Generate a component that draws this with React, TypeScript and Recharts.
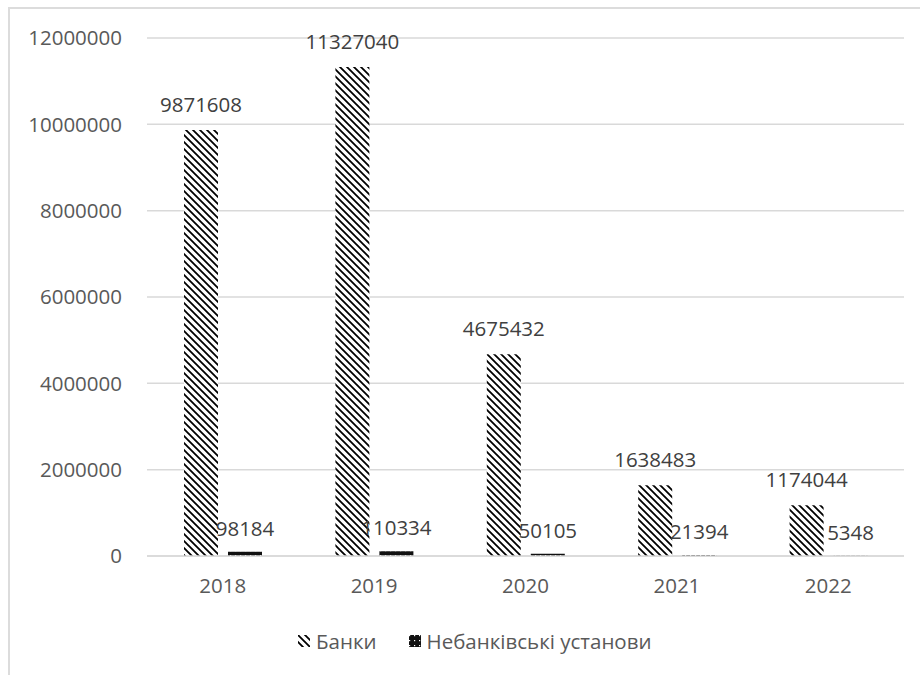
import { BarChart, Bar, XAxis, YAxis, CartesianGrid, Legend, LabelList } from 'recharts'

const years = ['2018', '2019', '2020', '2021', '2022']
const banks = [9871608, 11327040, 4675432, 1638483, 1174044]
const nonBanks = [98184, 110334, 50105, 21394, 5348]
const yTicks = [0, 2000000, 4000000, 6000000, 8000000, 10000000, 12000000]

const BANKS_NAME = 'Банки'
const NON_BANKS_NAME = 'Небанківські установи'

const FONT = '"Open Sans", "Liberation Sans", sans-serif'
const FONT_SIZE = 20.5

const data = years.map((year, i) => ({
  year,
  banks: banks[i],
  nonBanks: nonBanks[i],
}))

function Patterns({ prefix }: { prefix: string }) {
  return (
    <defs>
      <pattern id={`${prefix}-diag`} width={7} height={7} patternUnits="userSpaceOnUse">
        <rect width={7} height={7} fill="#fff" />
        <path d="M-2,-2 L9,9 M-2,5 L2,9 M5,-2 L9,2" stroke="#000" strokeWidth={1.8} />
      </pattern>
      <pattern id={`${prefix}-dots`} width={5} height={5} patternUnits="userSpaceOnUse">
        <rect width={5} height={5} fill="#111" />
        <rect x={0} y={0} width={1.2} height={1.2} fill="#fff" />
      </pattern>
    </defs>
  )
}

function LegendBox() {
  const items = [
    { name: BANKS_NAME, fill: 'url(#lg-diag)' },
    { name: NON_BANKS_NAME, fill: 'url(#lg-dots)' },
  ]
  return (
    <div style={{ display: 'flex', alignItems: 'center', fontFamily: FONT, fontSize: FONT_SIZE, color: '#595959' }}>
      {items.map((it, i) => (
        <div key={it.name} style={{ display: 'flex', alignItems: 'center', marginLeft: i === 0 ? 0 : 32 }}>
          <svg width={12} height={12} style={{ marginRight: 6 }}>
            <Patterns prefix="lg" />
            <rect width={12} height={12} fill={it.fill} />
          </svg>
          <span>{it.name}</span>
        </div>
      ))}
    </div>
  )
}

export default function App() {
  return (
    <div style={{ position: 'fixed', left: 0, top: 0, width: 920, height: 675, background: '#fff' }}>
      <div
        style={{
          position: 'absolute',
          left: 8,
          top: 7,
          width: 912,
          height: 668,
          borderLeft: '2px solid #dcdcdc',
          borderTop: '2px solid #dcdcdc',
        }}
      />
      <BarChart
        width={920}
        height={675}
        data={data}
        margin={{ top: 38, right: 16, bottom: 89, left: 0 }}
        barSize={34}
        barGap={10}
        style={{ position: 'absolute', left: 0, top: 0 }}
      >
        <Patterns prefix="bar" />
        <CartesianGrid vertical={false} stroke="#d9d9d9" strokeWidth={1.5} />
        <XAxis
          dataKey="year"
          height={30}
          axisLine={{ stroke: '#d9d9d9', strokeWidth: 1.5 }}
          tickLine={false}
          tickSize={6}
          tickMargin={16}
          tick={{ fill: '#595959', fontSize: FONT_SIZE, fontFamily: FONT }}
        />
        <YAxis
          width={147}
          domain={[0, 12000000]}
          ticks={yTicks}
          axisLine={false}
          tickLine={false}
          tickSize={6}
          tickMargin={19}
          interval={0}
          tick={{ fill: '#595959', fontSize: FONT_SIZE, fontFamily: FONT }}
        />
        <Legend
          verticalAlign="top"
          align="left"
          content={() => <LegendBox />}
          wrapperStyle={{ position: 'absolute', top: 627, left: 298, width: 500, height: 0, overflow: 'visible' }}
        />
        <Bar dataKey="banks" name={BANKS_NAME} fill="url(#bar-diag)" isAnimationActive={false}>
          <LabelList
            dataKey="banks"
            position="top"
            offset={18}
            fill="#404040"
            fontSize={FONT_SIZE}
            fontFamily={FONT}
          />
        </Bar>
        <Bar dataKey="nonBanks" name={NON_BANKS_NAME} fill="url(#bar-dots)" isAnimationActive={false}>
          <LabelList
            dataKey="nonBanks"
            position="top"
            offset={16}
            fill="#404040"
            fontSize={FONT_SIZE}
            fontFamily={FONT}
          />
        </Bar>
      </BarChart>
    </div>
  )
}
